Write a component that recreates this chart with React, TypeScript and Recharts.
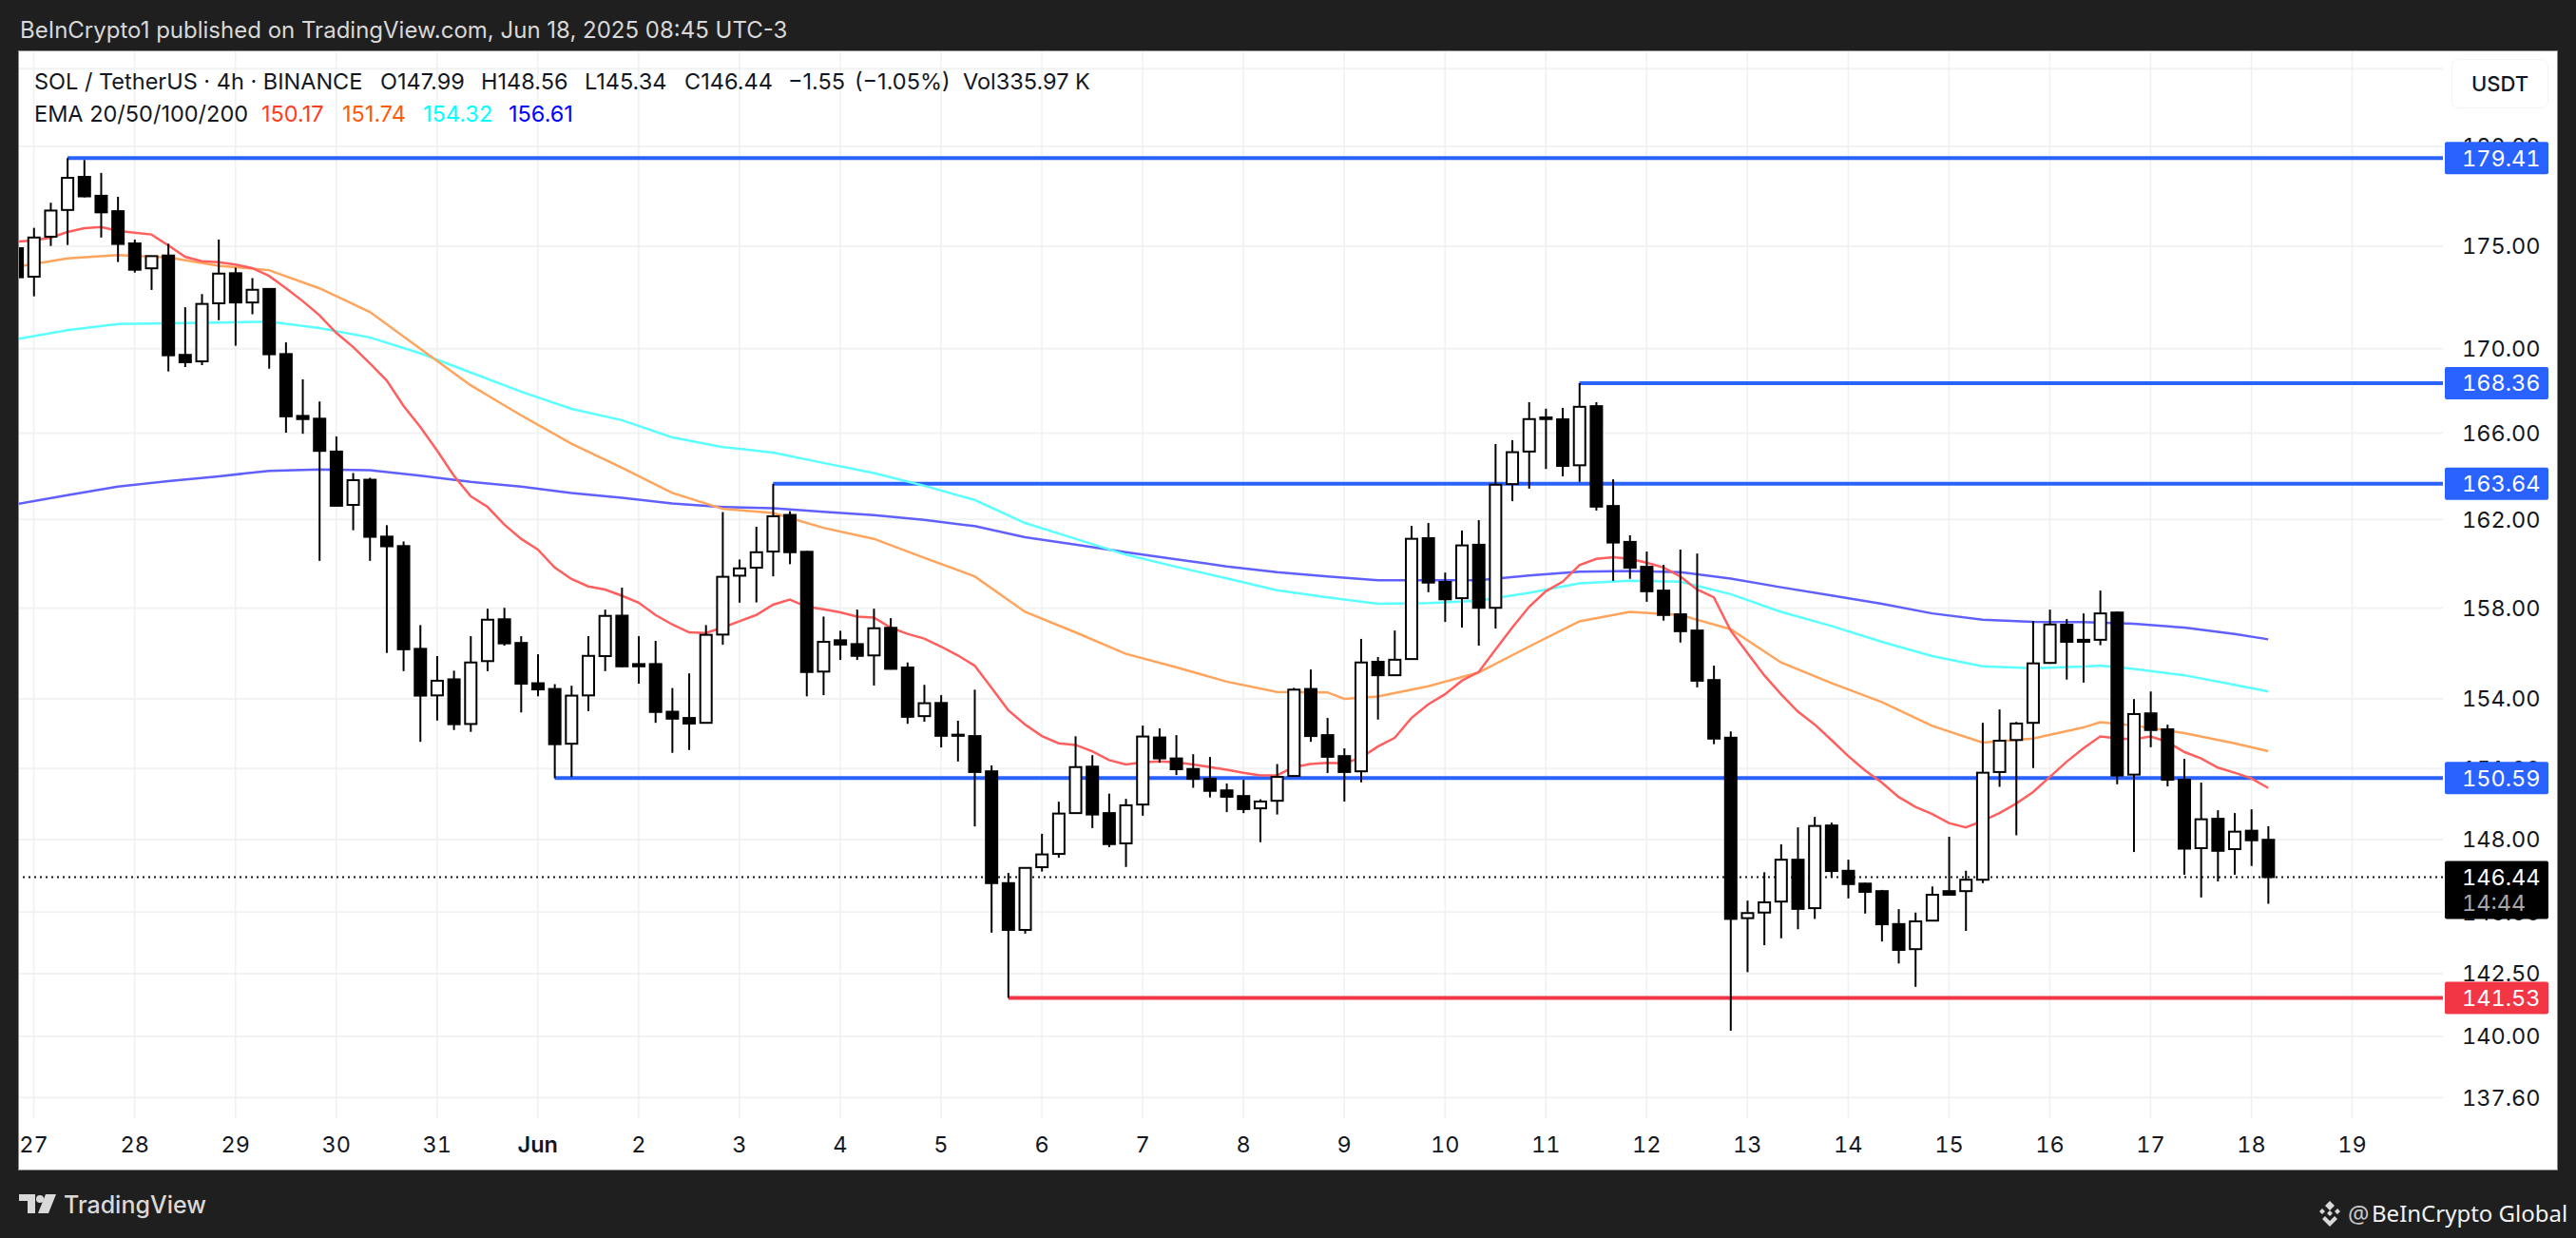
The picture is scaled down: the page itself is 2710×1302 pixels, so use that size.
import {
  CartesianGrid,
  ComposedChart,
  Bar,
  Line,
  ReferenceLine,
  XAxis,
  YAxis,
} from "recharts";

// 4h candles, index 0 is the first bar of May 27 and 6 bars make a day
const candleIndex = Array.from({ length: 135 }, (_, n) => n - 1);

const opens = [
  174.90, 173.50, 175.47, 176.80, 178.46, 177.51, 176.74, 175.14, 173.91, 174.54,
  169.71, 169.40, 172.20, 173.67, 172.24, 172.90, 169.75, 166.81, 166.68, 165.14,
  162.67, 163.83, 161.22, 160.79, 156.19, 154.15, 154.85, 152.91, 155.65, 157.50,
  156.45, 154.68, 154.43, 152.06, 154.15, 155.87, 157.66, 155.52, 155.52, 153.44,
  153.17, 152.96, 156.82, 159.45, 159.81, 160.54, 162.21, 160.53, 155.19, 156.57,
  156.40, 155.90, 157.12, 155.37, 153.25, 153.82, 152.45, 152.39, 150.88, 146.19,
  144.27, 146.85, 147.40, 149.11, 151.08, 149.11, 147.84, 149.47, 152.33, 151.43,
  150.98, 150.56, 150.07, 149.83, 149.31, 149.63, 150.68, 154.43, 152.43, 151.53,
  150.88, 155.62, 155.03, 155.74, 161.15, 159.17, 158.44, 160.85, 158.01, 163.63,
  165.14, 166.74, 166.65, 164.50, 167.27, 162.62, 160.98, 159.85, 158.78, 157.72,
  157.00, 154.82, 152.32, 144.75, 144.98, 145.43, 147.16, 145.16, 148.59, 146.70,
  146.17, 145.86, 144.51, 143.49, 144.65, 145.86, 145.86, 146.33, 150.85, 152.22,
  152.96, 155.57, 157.26, 156.59, 156.59, 157.80, 150.74, 153.37, 152.68, 150.52,
  147.64, 148.87, 147.60, 148.37, 147.99,
];

const highs = [
  175.40, 175.91, 177.16, 179.41, 179.31, 178.66, 177.46, 175.33, 174.53, 175.12,
  172.01, 172.65, 175.33, 173.94, 173.43, 172.93, 170.31, 168.54, 167.49, 165.84,
  164.14, 163.92, 161.74, 161.00, 157.24, 155.87, 155.23, 156.75, 157.97, 158.01,
  156.75, 155.95, 154.64, 154.57, 156.75, 157.93, 158.91, 156.75, 156.54, 154.47,
  155.11, 157.24, 162.34, 160.18, 161.67, 163.64, 162.38, 160.57, 157.62, 156.99,
  157.93, 157.97, 157.55, 155.59, 154.61, 154.16, 153.05, 154.40, 151.13, 146.61,
  146.85, 148.24, 149.59, 152.38, 151.57, 149.93, 149.71, 152.84, 152.72, 152.43,
  151.61, 151.49, 150.36, 150.52, 149.69, 151.19, 154.48, 155.28, 153.17, 151.86,
  156.63, 155.83, 157.00, 161.71, 161.84, 159.59, 161.50, 161.97, 165.49, 165.67,
  167.46, 167.15, 167.19, 168.36, 167.46, 163.85, 161.28, 160.54, 159.94, 160.63,
  160.45, 155.45, 152.59, 145.47, 146.64, 147.80, 148.51, 148.95, 148.71, 147.16,
  146.21, 145.91, 145.12, 144.98, 146.05, 148.12, 146.70, 152.96, 153.54, 153.00,
  157.42, 157.93, 157.51, 157.76, 158.78, 157.85, 153.99, 154.32, 152.88, 151.41,
  150.40, 149.23, 149.11, 149.27, 148.56,
];

const lows = [
  172.90, 172.54, 175.01, 175.06, 177.43, 175.43, 174.22, 173.70, 172.85, 168.92,
  169.13, 169.22, 171.38, 170.15, 171.67, 169.05, 166.02, 165.97, 160.12, 162.60,
  161.51, 160.12, 156.01, 155.21, 152.14, 153.06, 152.65, 152.57, 155.21, 156.33,
  153.41, 154.11, 150.59, 150.64, 153.47, 155.21, 155.38, 154.66, 152.96, 151.67,
  151.79, 152.96, 156.37, 158.24, 158.25, 159.42, 159.97, 154.11, 154.16, 155.70,
  155.70, 154.58, 155.28, 152.92, 153.01, 151.90, 151.30, 148.55, 144.16, 141.53,
  144.12, 146.67, 147.24, 149.11, 148.48, 147.68, 146.86, 149.00, 151.25, 150.72,
  150.18, 149.77, 149.15, 149.11, 147.89, 149.05, 150.68, 152.14, 150.81, 149.60,
  150.41, 153.10, 155.03, 155.74, 158.71, 157.38, 157.13, 156.33, 157.09, 162.84,
  163.42, 164.33, 163.99, 163.73, 162.41, 159.22, 159.31, 158.28, 157.44, 156.47,
  154.50, 152.04, 140.22, 142.56, 143.65, 143.93, 144.30, 144.72, 146.43, 145.56,
  144.94, 143.80, 142.91, 141.97, 144.65, 145.71, 144.23, 146.19, 150.22, 148.18,
  151.02, 155.53, 154.84, 154.71, 156.35, 150.33, 147.48, 151.91, 150.24, 146.54,
  145.60, 146.26, 146.54, 146.90, 145.34,
];

const closes = [
  173.47, 175.43, 176.77, 178.41, 177.48, 176.68, 175.11, 173.84, 174.51, 169.69,
  169.36, 172.17, 173.65, 172.24, 172.86, 169.74, 166.79, 166.66, 165.17, 162.63,
  163.81, 161.21, 160.78, 156.17, 154.14, 154.79, 152.90, 155.59, 157.48, 156.43,
  154.66, 154.41, 152.04, 154.14, 155.88, 157.65, 155.42, 155.42, 153.43, 153.14,
  152.93, 156.81, 159.40, 159.78, 160.51, 162.15, 160.51, 155.17, 156.50, 156.38,
  155.88, 157.10, 155.31, 153.22, 153.81, 152.40, 152.40, 150.85, 146.19, 144.27,
  146.82, 147.38, 149.09, 151.06, 149.05, 147.81, 149.44, 152.37, 151.43, 150.97,
  150.56, 150.05, 149.80, 149.28, 149.60, 150.64, 154.40, 152.39, 151.50, 150.85,
  155.59, 155.03, 155.71, 161.12, 159.14, 158.39, 160.82, 158.01, 163.60, 165.11,
  166.66, 166.66, 164.47, 167.24, 162.59, 160.95, 159.81, 158.75, 157.69, 156.97,
  154.79, 152.28, 144.72, 144.96, 145.40, 147.16, 145.13, 148.57, 146.69, 146.15,
  145.83, 144.50, 143.46, 144.62, 145.71, 145.71, 146.33, 150.82, 152.19, 152.93,
  155.55, 157.27, 156.50, 156.50, 157.76, 150.70, 153.34, 152.65, 150.52, 147.62,
  148.85, 147.53, 148.33, 147.97, 146.44,
];

const ema20 = [
  175.23, 175.29, 175.42, 175.70, 175.89, 175.95, 175.76, 175.67, 175.58, 175.04,
  174.48, 174.26, 174.21, 174.09, 173.92, 173.54, 172.94, 172.31, 171.62, 170.77,
  170.09, 169.31, 168.49, 167.29, 166.29, 165.19, 164.02, 163.07, 162.58, 161.77,
  161.12, 160.63, 159.82, 159.30, 158.97, 158.83, 158.55, 158.24, 157.69, 157.27,
  156.92, 156.89, 157.13, 157.41, 157.69, 158.15, 158.38, 158.06, 157.95, 157.81,
  157.62, 157.58, 157.13, 156.85, 156.64, 156.29, 155.90, 155.45, 154.49, 153.51,
  152.89, 152.39, 152.08, 152.01, 151.74, 151.36, 151.17, 151.26, 151.30, 151.26,
  151.17, 151.06, 150.95, 150.82, 150.71, 150.71, 151.06, 151.19, 151.24, 151.22,
  151.46, 151.94, 152.31, 153.17, 153.76, 154.20, 154.79, 155.17, 156.15, 157.13,
  158.05, 158.75, 159.18, 159.93, 160.21, 160.28, 160.21, 160.04, 159.82, 159.42,
  158.83, 158.48, 157.00, 156.01, 155.03, 154.20, 153.45, 152.89, 152.22, 151.53,
  150.92, 150.40, 149.79, 149.37, 149.07, 148.69, 148.51, 148.78, 149.11, 149.51,
  150.00, 150.64, 151.29, 151.86, 152.37, 152.29, 152.25, 152.37, 152.14, 151.71,
  151.43, 151.04, 150.82, 150.58, 150.17,
];

// the slower averages are read at every third bar, plus their turning points
const ema50Bars = [
  -1, 2, 5, 8, 11, 14, 17, 20, 23, 26, 29, 32, 35, 38, 41, 44, 47, 50, 53, 56, 59, 62, 65, 68,
  71, 74, 77, 78, 80, 83, 86, 89, 92, 95, 98, 101, 104, 107, 110, 113, 116, 119, 122, 123, 125,
  128, 131, 133,
];
const ema50 = [
  173.98, 174.40, 174.56, 174.45, 174.04, 173.82, 172.93, 171.78, 170.01, 168.26, 166.84, 165.51,
  164.39, 163.22, 162.49, 162.30, 161.62, 161.12, 160.26, 159.42, 157.83, 156.92, 155.97, 155.38,
  154.75, 154.30, 154.28, 154.00, 154.10, 154.55, 155.15, 156.29, 157.41, 157.83, 157.69, 157.06,
  155.59, 154.69, 153.86, 152.83, 152.11, 152.28, 152.76, 152.99, 152.84, 152.52, 152.08, 151.74,
];

const ema100Bars = [
  -1, 2, 5, 8, 11, 14, 17, 20, 23, 26, 29, 32, 35, 38, 41, 44, 47, 50, 53, 56, 59, 62, 65, 68,
  71, 74, 77, 80, 83, 86, 89, 92, 95, 98, 101, 104, 107, 110, 113, 116, 119, 122, 123, 125, 128,
  131, 133,
];
const ema100 = [
  170.47, 170.90, 171.20, 171.23, 171.27, 171.31, 171.00, 170.55, 169.79, 168.87, 167.96, 167.14,
  166.61, 165.80, 165.35, 165.09, 164.61, 164.14, 163.55, 162.90, 161.84, 161.12, 160.40, 159.85,
  159.33, 158.80, 158.48, 158.19, 158.22, 158.33, 158.68, 159.11, 159.22, 159.18, 158.62, 157.83,
  157.20, 156.50, 155.87, 155.42, 155.34, 155.41, 155.45, 155.31, 155.03, 154.61, 154.32,
];

const ema200Bars = [
  -1, 2, 5, 8, 11, 14, 17, 20, 23, 26, 29, 32, 35, 38, 41, 44, 47, 50, 53, 56, 59, 62, 65, 68,
  71, 74, 77, 80, 83, 86, 89, 92, 95, 98, 101, 104, 107, 110, 113, 116, 119, 122, 125, 128, 131,
  133,
];
const ema200 = [
  162.71, 163.12, 163.51, 163.77, 163.99, 164.24, 164.30, 164.27, 164.02, 163.73, 163.51, 163.22,
  163.00, 162.74, 162.57, 162.52, 162.35, 162.20, 161.98, 161.70, 161.19, 160.86, 160.51, 160.19,
  159.87, 159.61, 159.42, 159.25, 159.24, 159.25, 159.46, 159.63, 159.66, 159.61, 159.32, 158.93,
  158.56, 158.19, 157.76, 157.48, 157.39, 157.37, 157.30, 157.13, 156.85, 156.61,
];

const dayLabels = [
  "27", "28", "29", "30", "31", "Jun", "2", "3", "4", "5", "6", "7", "8", "9", "10", "11", "12",
  "13", "14", "15", "16", "17", "18", "19",
];
const dayTicks = dayLabels.map((_, n) => n * 6);

const priceTicks = [180, 175, 170, 166, 162, 158, 154, 151, 148, 145, 142.5, 140, 137.6];
const gridPrices = [184, ...priceTicks];

const lastPrice = 146.44;
const countdown = "14:44";

const blueLevels = [179.41, 168.36, 163.64, 150.59];
const blueLevelBars = [2, 92, 44, 31];
const redLevel = 141.53;
const redLevelBar = 58;

const X_DOMAIN: [number, number] = [-0.883, 143.4];
const Y_DOMAIN: [number, number] = [136.8, 184.9];

const INK = "#131722";
const BLUE = "#2962ff";
const RED = "#f23645";
const FONT = "Inter, sans-serif";
const FONT_SIZE = 23.5;

const pick = (bars: number[], values: number[], i: number) => {
  const at = bars.indexOf(i);
  return at < 0 ? null : values[at];
};

const chartData = candleIndex.map((i, n) => ({
  i,
  open: opens[n],
  close: closes[n],
  wick: [lows[n], highs[n]],
  body: [Math.min(opens[n], closes[n]), Math.max(opens[n], closes[n])],
  ema20: ema20[n],
  ema50: pick(ema50Bars, ema50, i),
  ema100: pick(ema100Bars, ema100, i),
  ema200: pick(ema200Bars, ema200, i),
}));

const allPriceTicks = [...priceTicks, lastPrice, ...blueLevels, redLevel];

function CandleBody(props: any) {
  const { x, y, width, height, payload } = props;
  const up = payload.close >= payload.open;
  return (
    <rect
      x={x + 1}
      y={y}
      width={width - 2}
      height={Math.max(height, 1)}
      fill={up ? "#ffffff" : "#000000"}
      stroke="#000000"
      strokeWidth={2}
    />
  );
}

const axisText = {
  fontFamily: FONT,
  fontSize: FONT_SIZE,
  fontVariantNumeric: "tabular-nums",
};

function PriceTick(props: any) {
  const { x, y, payload } = props;
  const value: number = payload.value;
  const text = value.toFixed(2);
  const isLast = value === lastPrice;
  const isBlue = blueLevels.includes(value);
  const isRed = value === redLevel;
  if (!isLast && !isBlue && !isRed) {
    return (
      <text x={x + 20} y={y} dy="0.36em" fill={INK} style={axisText}>
        {text}
      </text>
    );
  }
  const fill = isLast ? "#000000" : isBlue ? BLUE : RED;
  const h = isLast ? 61 : 34;
  return (
    <g>
      <rect x={x + 2} y={y - 17} width={109} height={h} rx={2} fill={fill} />
      <text x={x + 20} y={y} dy="0.36em" fill="#ffffff" style={axisText}>
        {text}
      </text>
      {isLast && (
        <text x={x + 20} y={y + 27} dy="0.36em" fill="#a8a8a8" style={axisText}>
          {countdown}
        </text>
      )}
    </g>
  );
}

function DayTick(props: any) {
  const { x, y, payload } = props;
  const label = dayLabels[payload.value / 6];
  return (
    <text
      x={x}
      y={y + 20}
      dy="0.36em"
      textAnchor="middle"
      fill={INK}
      style={{ ...axisText, fontWeight: label === "Jun" ? 600 : 400 }}
    >
      {label}
    </text>
  );
}

function Caption({ x, y, color = INK, size = FONT_SIZE, weight = 400, family = FONT, children }: any) {
  return (
    <div
      style={{
        position: "absolute",
        left: x,
        top: y,
        transform: "translateY(-50%)",
        color,
        fontFamily: family,
        fontSize: size,
        fontWeight: weight,
        whiteSpace: "nowrap",
        lineHeight: 1.2,
      }}
    >
      {children}
    </div>
  );
}

export default function App() {
  return (
    <div
      style={{
        position: "absolute",
        left: 0,
        top: 0,
        width: 2710,
        height: 1302,
        background: "#1f1f1f",
        overflow: "hidden",
      }}
    >
      <div
        style={{
          position: "absolute",
          left: 20,
          top: 54,
          width: 2670,
          height: 1176,
          background: "#ffffff",
          boxShadow: "0 0 0 1px #8a8a8a",
        }}
      >
        <ComposedChart
          width={2670}
          height={1176}
          data={chartData}
          margin={{ top: 0, right: 0, bottom: 0, left: 0 }}
        >
          <CartesianGrid
            vertical={false}
            horizontalValues={gridPrices}
            stroke="#f0f3f2"
            strokeWidth={2}
            syncWithTicks={false}
          />
          <CartesianGrid
            horizontal={false}
            verticalValues={dayTicks}
            stroke="#edf2f1"
            strokeWidth={1.5}
          />
          <XAxis
            dataKey="i"
            type="number"
            domain={X_DOMAIN}
            allowDataOverflow
            ticks={dayTicks}
            interval={0}
            height={54}
            tick={DayTick}
            tickLine={false}
            axisLine={false}
          />
          <XAxis
            xAxisId="bodies"
            dataKey="i"
            type="number"
            domain={X_DOMAIN}
            allowDataOverflow
            hide
          />
          <YAxis
            orientation="right"
            scale="log"
            domain={Y_DOMAIN}
            allowDataOverflow
            ticks={allPriceTicks}
            interval={0}
            width={120}
            tick={PriceTick}
            tickSize={0}
            tickMargin={0}
            tickLine={false}
            axisLine={false}
          />
          <ReferenceLine y={lastPrice} stroke={INK} strokeWidth={2} strokeDasharray="2 4" zIndex={50} />
          {blueLevels.map((level, n) => (
            <ReferenceLine
              key={level}
              segment={[
                { x: blueLevelBars[n], y: level },
                { x: X_DOMAIN[1], y: level },
              ]}
              stroke={BLUE}
              strokeWidth={4}
              zIndex={60}
            />
          ))}
          <ReferenceLine
            segment={[
              { x: redLevelBar, y: redLevel },
              { x: X_DOMAIN[1], y: redLevel },
            ]}
            stroke={RED}
            strokeWidth={4}
            zIndex={60}
          />
          <Line dataKey="ema200" stroke="#6060ff" strokeWidth={2.5} dot={false} activeDot={false} connectNulls isAnimationActive={false} zIndex={100} />
          <Line dataKey="ema100" stroke="#5cffff" strokeWidth={2.5} dot={false} activeDot={false} connectNulls isAnimationActive={false} zIndex={100} />
          <Line dataKey="ema50" stroke="#ffa45c" strokeWidth={2.5} dot={false} activeDot={false} connectNulls isAnimationActive={false} zIndex={100} />
          <Line dataKey="ema20" stroke="#ff5f5f" strokeWidth={2.5} dot={false} activeDot={false} isAnimationActive={false} zIndex={100} />
          <Bar dataKey="wick" barSize={2} fill="#000000" isAnimationActive={false} zIndex={200} />
          <Bar
            dataKey="body"
            xAxisId="bodies"
            barSize={14}
            shape={CandleBody}
            isAnimationActive={false}
            zIndex={210}
          />
        </ComposedChart>
      </div>

      <Caption x={21} y={32} color="#d8d8d8" size={24}>
        BeInCrypto1 published on TradingView.com, Jun 18, 2025 08:45 UTC-3
      </Caption>

      <Caption x={36} y={86}>SOL / TetherUS · 4h · BINANCE</Caption>
      <Caption x={400} y={86}>O147.99</Caption>
      <Caption x={506} y={86}>H148.56</Caption>
      <Caption x={615} y={86}>L145.34</Caption>
      <Caption x={720} y={86}>C146.44</Caption>
      <Caption x={829} y={86}>−1.55</Caption>
      <Caption x={899} y={86}>(−1.05%)</Caption>
      <Caption x={1013} y={86}>Vol335.97 K</Caption>

      <Caption x={36} y={120}>EMA 20/50/100/200</Caption>
      <Caption x={275} y={120} color="#ff3d1f">150.17</Caption>
      <Caption x={360} y={120} color="#ff5a0a">151.74</Caption>
      <Caption x={445} y={120} color="#00ffff">154.32</Caption>
      <Caption x={535} y={120} color="#0000ff">156.61</Caption>

      <div
        style={{
          position: "absolute",
          left: 2579,
          top: 62,
          width: 102,
          height: 52,
          boxSizing: "border-box",
          borderRadius: 8,
          border: "1px solid #f0f3fa",
          background: "#ffffff",
          color: INK,
          fontFamily: FONT,
          fontSize: 22,
          fontWeight: 500,
          lineHeight: "50px",
          textAlign: "center",
        }}
      >
        USDT
      </div>

      <svg style={{ position: "absolute", left: 20, top: 1256 }} width={40} height={21}>
        <path d="M0 0H17V20H9V7H0Z M28 0H39L31 20H20Z" fill="#d9d9d9" />
        <circle cx={22} cy={5} r={4} fill="#d9d9d9" />
      </svg>
      <Caption x={67} y={1267} color="#d9d9d9" size={25} weight={500}>TradingView</Caption>

      <svg style={{ position: "absolute", left: 2437, top: 1262 }} width={28} height={28}>
        <path
          d="M14 1L19 6L14 11L9 6Z M6 9L9 12L6 15L3 12Z M22 9L25 12L22 15L19 12Z M14 11L17 14L14 17L11 14Z M9 17L14 22L19 17L22 20L14 28L6 20Z"
          fill="#d9d9d9"
        />
      </svg>
      <Caption x={2470} y={1276} color="#c8c8c8" size={25} family="'Noto Sans', sans-serif">@</Caption>
      <Caption x={2495} y={1276} color="#f2f2f2" size={24} family="'Noto Sans', sans-serif">BeInCrypto Global</Caption>
    </div>
  );
}
